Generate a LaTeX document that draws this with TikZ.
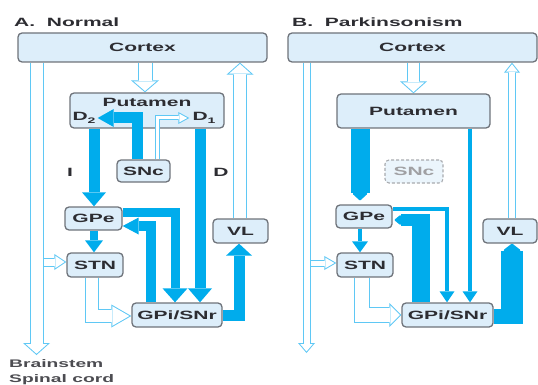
\documentclass[tikz,border=0pt]{standalone}
\usepackage{fontspec}
\usepackage{graphicx}
\usetikzlibrary{arrows.meta,calc}
\newfontfamily\labfont{Liberation Sans}[FakeStretch=1.75]
\newcommand\labtext{\labfont\bfseries\fontsize{12}{14}\selectfont}
\newcommand\smalltext{\labfont\bfseries\fontsize{11}{13}\selectfont}
\newcommand\sub[1]{\raisebox{-2.5pt}{\fontsize{8}{8}\selectfont #1}}
\definecolor{cyanT}{RGB}{0,172,236}
\definecolor{hcol}{RGB}{95,200,245}
\definecolor{boxfill}{RGB}{221,238,250}
\definecolor{boxline}{RGB}{110,115,122}
\definecolor{txt}{RGB}{45,45,50}
\pgfdeclarelayer{bg}
\pgfsetlayers{bg,main}
\tikzset{
  box/.style={draw=boxline, fill=boxfill, rounded corners=4pt, line width=1.3pt, inner sep=0pt, font=\labtext, text=txt},
  bx/.style 2 args={box, minimum width=#1pt, minimum height=#2pt},
  dbx/.style 2 args={draw=boxline!60, fill=boxfill!60, dashed, dash pattern=on 3pt off 2pt, rounded corners=4pt, line width=1.1pt, inner sep=0pt, font=\labtext, text=txt!45, minimum width=#1pt, minimum height=#2pt},
  lab/.style={inner sep=1pt, font=\labtext, text=txt},
  sml/.style={inner sep=0pt, font=\smalltext, text=txt!85},
}
\newcommand\hollowarrow[4]{%
  \pgfmathsetmacro\hwInner{#1-2}%
  \pgfmathsetmacro\hsOff{1/sin(atan((#2/2)/#3))}%
  \pgfmathsetmacro\hlInner{#3-1-\hsOff}%
  \pgfmathsetmacro\hhInner{#2*\hlInner/#3}%
  \draw[hcol, line width=#1pt, -{Triangle[width=#2pt,length=#3pt,line width=0pt]}] #4;%
  \draw[white, line width=\hwInner pt, shorten >=\hsOff pt, -{Triangle[width=\hhInner pt,length=\hlInner pt,line width=0pt]}] #4;%
}
\begin{document}
\begin{tikzpicture}[x=1pt, y=-1pt]
\useasboundingbox (0,0) rectangle (538,385);

% ---------- Panel A ----------
\node[lab, anchor=west] (titleA) at (13,22) {A.\ \ Normal};
\node[bx={249}{29}] (ctxA) at (142.5,47.5) {Cortex};
\node[bx={154}{35}] (putA) at (147,110.5) {};
\node[bx={53}{22}] (sncA) at (143.5,171) {SNc};
\node[bx={57}{23}] (gpeA) at (93.5,218.5) {GPe};
\node[bx={56}{24}] (stnA) at (95,265) {STN};
\node[bx={90}{24}] (gpiA) at (177,315) {GPi/SNr};
\node[bx={55}{24}] (vlA) at (240.5,231) {VL};
\node[lab] (putAt) at (147,102) {Putamen};
\node[lab] (d2A) at (84,118) {D\sub{2}};
\node[lab] (d1A) at (204,118) {D\sub{1}};
\node[lab] (iA) at (70,172) {I};
\node[lab] (dA) at (221,172) {D};
\node[sml, anchor=west] (bs) at (9,364) {Brainstem};
\node[sml, anchor=west] (sc) at (9,380) {Spinal cord};
\coordinate (bsA) at (36.5,355);
\coordinate (brA) at (43.5,262);

% SNc projections drawn over the putamen box
\hollowarrow{5}{12}{11}{(sncA.north -| 157.5,0) |- ([xshift=-2pt]d1A.west)}
\draw[cyanT, line width=11pt, -{Triangle[width=18pt,length=16pt,line width=0pt]}] (sncA.north -| 137,0) |- ([xshift=1pt]d2A.east);

% ---------- Panel B ----------
\node[lab, anchor=west] (titleB) at (291,22) {B.\ \ Parkinsonism};
\node[bx={249}{29}] (ctxB) at (412.5,47.5) {Cortex};
\node[bx={153}{34}] (putB) at (413.5,111) {Putamen};
\node[dbx={58}{23}] (sncB) at (414,171.5) {SNc};
\node[bx={56}{23}] (gpeB) at (364,216.5) {GPe};
\node[bx={56}{24}] (stnB) at (365,265) {STN};
\node[bx={91}{24}] (gpiB) at (447.5,315) {GPi/SNr};
\node[bx={54}{24}] (vlB) at (510,231) {VL};
\coordinate (bsB) at (306.5,353);
\coordinate (brB) at (310.5,263);
\coordinate (kB) at (421,214);
\coordinate (cB) at (512,316);

\begin{pgfonlayer}{bg}
% ----- A hollow (excitatory) -----
\hollowarrow{15}{28}{12}{(ctxA.south -| 145,0) -- (putA.north -| 145,0)}
\hollowarrow{14}{27}{12}{(ctxA.south -| 36.5,0) -- (bsA)}
\hollowarrow{9}{16}{12}{(brA) -- (stnA.west |- 0,262)}
\hollowarrow{14}{27}{12}{(vlA.north -| 240,0) -- (ctxA.south -| 240,0)}
\hollowarrow{14}{23}{20}{(stnA.south -| 91.5,0) |- (gpiA.west |- 0,316)}
% ----- A solid (inhibitory) -----
\draw[cyanT, line width=11pt, -{Triangle[width=24pt,length=14pt,line width=0pt]}] (putA.south -| 94,0) -- (gpeA.north -| 94,0);
\draw[cyanT, line width=11pt, -{Triangle[width=24pt,length=14pt,line width=0pt]}] (putA.south -| 200,0) -- (gpiA.north -| 200,0);
\draw[cyanT, line width=8pt, -{Triangle[width=18pt,length=12pt,line width=0pt]}] (gpeA.south -| 94,0) -- (stnA.north -| 94,0);
\draw[cyanT, line width=9pt, -{Triangle[width=25pt,length=14pt,line width=0pt]}] (gpeA.east |- 0,212) -| (gpiA.north -| 175,0);
\draw[cyanT, line width=10pt, -{Triangle[width=17pt,length=16pt,line width=0pt]}] (gpiA.north -| 151,0) |- (gpeA.east |- 0,226);
\draw[cyanT, line width=11pt, -{Triangle[width=26pt,length=12pt,line width=0pt]}] (gpiA.east |- 0,315) -| (vlA.south -| 239,0);

% ----- B hollow -----
\hollowarrow{13}{27}{12}{(ctxB.south -| 413.5,0) -- (putB.north -| 413.5,0)}
\hollowarrow{8}{17}{10}{(ctxB.south -| 306.5,0) -- (bsB)}
\hollowarrow{7}{14}{12}{(brB) -- (stnB.west |- 0,263)}
\hollowarrow{8}{16}{10}{(vlB.north -| 512,0) -- (ctxB.south -| 512,0)}
\hollowarrow{16}{24}{12}{(stnB.south -| 362,0) |- (gpiB.west |- 0,315)}
% ----- B solid -----
\draw[cyanT, line width=19pt, shorten >=4pt, -{Triangle[width=17pt,length=8pt,round,line width=2pt]}] (putB.south -| 360,0) -- (gpeB.north -| 360,0);
\draw[cyanT, line width=4.5pt, -{Triangle[width=15pt,length=11pt,line width=0pt]}] (putB.south -| 470,0) -- (gpiB.north -| 470,0);
\draw[cyanT, line width=4.5pt, -{Triangle[width=16pt,length=11pt,line width=0pt]}] (gpeB.south -| 360,0) -- (stnB.north -| 360,0);
\draw[cyanT, line width=4pt, -{Triangle[width=15pt,length=11pt,line width=0pt]}] (gpeB.east |- 0,209) -| (gpiB.north -| 447,0);
% GPi -> GPe (thick, broad vertical, narrower horizontal)
\draw[cyanT, line width=18pt] (gpiB.north -| kB) -- (kB);
\draw[cyanT, line width=12pt, shorten >=2pt, -{Triangle[width=11pt,length=7pt,round,line width=2pt]}] ([xshift=9pt]kB |- 0,220) -- (gpeB.east |- 0,220);
% GPi -> VL (thick)
\draw[cyanT, line width=15pt] (gpiB.east |- cB) -- ([xshift=11pt]cB);
\draw[cyanT, line width=22pt, -{Triangle[width=20pt,length=8pt,round,line width=2pt]}] ([yshift=-7.5pt]cB) -- (vlB.south -| cB);
\end{pgfonlayer}
\end{tikzpicture}
\end{document}
